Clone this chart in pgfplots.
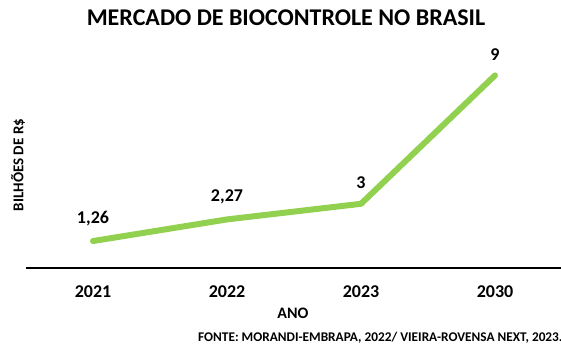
\documentclass[border=0pt]{standalone}
\usepackage{fontspec}
\setmainfont{Carlito}
\usepackage{pgfplots}
\pgfplotsset{compat=1.18}
\definecolor{lgreen}{RGB}{146,208,80}
\begin{document}
\begin{tikzpicture}[x=1pt,y=1pt]
\path[use as bounding box] (-26,-90) rectangle (535,268);
\begin{axis}[
  at={(0,0)}, anchor=south west,
  scale only axis, width=536pt, height=214pt,
  xmin=-0.5, xmax=3.5, ymin=0, ymax=10,
  axis x line=bottom, axis y line=none,
  axis line style={black, line width=1.2pt, -},
  xtick={0,1,2,3}, xticklabels={2021,2022,2023,2030},
  major tick length=0pt,
  xticklabel style={font=\fontsize{18}{20}\selectfont\bfseries, yshift=-14pt},
  nodes near coords,
  point meta=explicit symbolic,
  every node near coord/.append style={font=\fontsize{18}{20}\selectfont\bfseries, text=black, anchor=south, yshift=9pt},
  clip=false,
]
\addplot[lgreen, line width=6pt, line cap=round, line join=round, mark=none] table[meta=lab] {
x y lab
0 1.26 {1,26}
1 2.27 {2,27}
2 3 3
3 9 9
};
\end{axis}
\node[font=\fontsize{24}{28}\selectfont\bfseries] at (260,250) {MERCADO DE BIOCONTROLE NO BRASIL};
\node[font=\fontsize{16}{18}\selectfont\bfseries] at (267,-45) {ANO};
\node[font=\fontsize{13.3}{15}\selectfont\bfseries, anchor=west, inner sep=0pt] at (172,-70) {FONTE: MORANDI-EMBRAPA, 2022/ VIEIRA-ROVENSA NEXT, 2023.};
\node[font=\fontsize{15}{16}\selectfont\bfseries, rotate=90] at (-8,103) {BILHÕES DE R\$};
\end{tikzpicture}
\end{document}
